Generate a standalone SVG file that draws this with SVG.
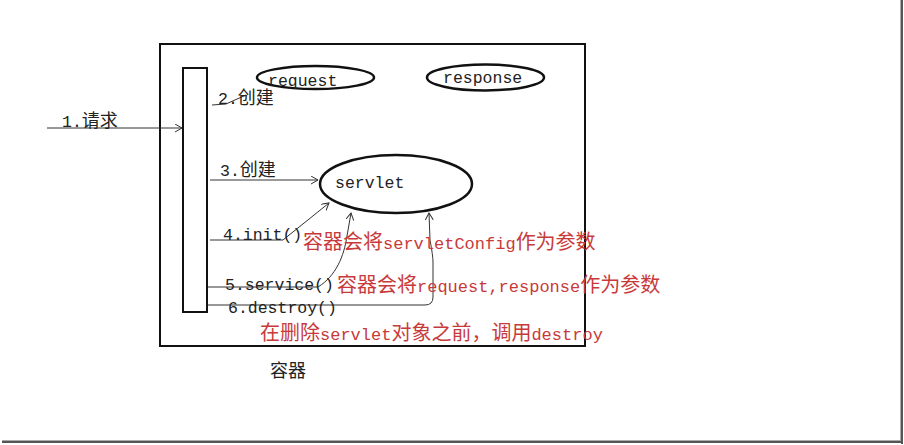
<svg xmlns="http://www.w3.org/2000/svg" width="904" height="445" viewBox="0 0 904 445">
<style>
.blk{font-family:"Liberation Mono","Noto Sans CJK SC",monospace;font-size:16.5px;fill:#222}
.cjk{font-family:"Noto Sans CJK SC","Liberation Mono",sans-serif;font-size:18px}
.red{font-family:"Noto Sans CJK SC","Liberation Mono",sans-serif;font-size:20px;fill:#c83a3a}
.rl{font-family:"Liberation Mono",monospace;font-size:17px}
.shape{fill:none;stroke:#111;stroke-width:2}
.ell{fill:none;stroke:#111;stroke-width:2.5}
.conn{fill:none;stroke:#333;stroke-width:1}
</style>
<defs>
<marker id="arr" markerWidth="10" markerHeight="10" refX="7" refY="4" orient="auto" markerUnits="userSpaceOnUse">
<path d="M0,0 L7,4 L0,8" fill="none" stroke="#333" stroke-width="1"/>
</marker>
</defs>
<rect width="904" height="445" fill="#fff"/>
<g id="frame">
<line x1="900.5" y1="0" x2="900.5" y2="442" stroke="#aaa" stroke-width="1"/>
<line x1="902" y1="0" x2="902" y2="444" stroke="#555" stroke-width="2"/>
<line x1="2" y1="440.5" x2="901" y2="440.5" stroke="#aaa" stroke-width="1"/>
<line x1="2" y1="442" x2="903" y2="442" stroke="#555" stroke-width="2"/>
</g>
<g id="container">
<rect class="shape" x="160" y="44" width="425" height="302"/>
<text class="cjk" x="270" y="377" font-size="20" fill="#222">容器</text>
</g>
<g id="bar">
<rect class="shape" x="183" y="68" width="24" height="244"/>
</g>
<g id="request">
<ellipse class="ell" cx="315.5" cy="77.5" rx="58.5" ry="11.5"/>
<text class="blk" x="268" y="86">request</text>
</g>
<g id="response">
<ellipse class="ell" cx="485.5" cy="77.5" rx="58.5" ry="13"/>
<text class="blk" x="443" y="83">response</text>
</g>
<g id="servlet">
<ellipse class="ell" cx="396" cy="184" rx="76" ry="29"/>
<text class="blk" x="335" y="188">servlet</text>
</g>
<g id="connectors">
<line class="conn" x1="47" y1="128" x2="182" y2="128" marker-end="url(#arr)"/>
<polyline class="conn" points="212,105 226,104 246,95"/>
<line class="conn" x1="210" y1="180" x2="318" y2="180" marker-end="url(#arr)"/>
<path class="conn" d="M210,240 H283 L329,203" marker-end="url(#arr)"/>
<path class="conn" d="M208,287 H318 C336,276 344,256 347,236 L351,213" marker-end="url(#arr)"/>
<path class="conn" d="M208,305 H425 Q433,305 433,297 V262 Q433,256 430,240 L429,213" marker-end="url(#arr)"/>
</g>
<g id="labels">
<text class="blk" x="62" y="127">1.<tspan class="cjk">请求</tspan></text>
<text class="blk" x="218" y="104">2.<tspan class="cjk">创建</tspan></text>
<text class="blk" x="220" y="176">3.<tspan class="cjk">创建</tspan></text>
<text class="blk" x="223" y="240">4.init()</text>
<text class="blk" x="225" y="290">5.service()</text>
<text class="blk" x="228" y="313">6.destroy()</text>
<text class="red" x="260" y="340">在删除<tspan class="rl">servlet</tspan>对象之前，调用<tspan class="rl">destroy</tspan></text>
<text class="red" x="303" y="249">容器会将<tspan class="rl">servletConfig</tspan>作为参数</text>
<text class="red" x="337" y="292">容器会将<tspan class="rl">request,response</tspan>作为参数</text>
</g>
</svg>
